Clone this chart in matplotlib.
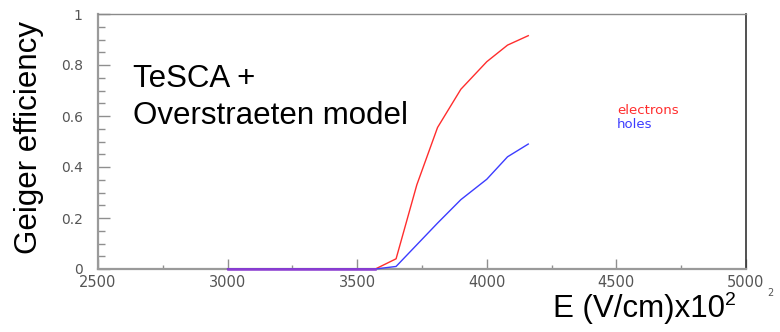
import matplotlib
matplotlib.use("Agg")
import matplotlib.pyplot as plt
from matplotlib.ticker import MultipleLocator
import numpy as np

# data
field = [3000, 3570, 3650, 3730, 3810, 3900, 4000, 4080, 4160]
electrons = [0, 0, 0.04, 0.33, 0.555, 0.705, 0.813, 0.878, 0.915]
holes = [0, 0, 0.01, 0.095, 0.18, 0.272, 0.352, 0.44, 0.49]

x_ticks = [2500, 3000, 3500, 4000, 4500, 5000]
y_ticks = [0, 0.2, 0.4, 0.6, 0.8, 1]
y_tick_labels = ["0", "0.2", "0.4", "0.6", "0.8", "1"]

red = "#ff2d2d"
blue = "#3c3cff"
purple = "#8c3cd2"
grey = "#8f8f8f"

fig = plt.figure(figsize=(7.8, 3.32), dpi=100)
ax = fig.add_axes([98 / 780, 63 / 332, 648 / 780, 255 / 332])

x = np.array(field)
e = np.array(electrons)
h = np.array(holes)
ax.plot(x, e, color=red, lw=1.0, clip_on=False, zorder=3)
ax.plot(x, h, color=blue, lw=1.0, clip_on=False, zorder=3)
# where both curves sit on zero they overlap and look purple
both = (e == 0) & (h == 0)
ax.plot(x[both], e[both], color=purple, lw=1.8, clip_on=False, zorder=4)

ax.set_xlim(2500, 5000)
ax.set_ylim(0, 1)
ax.xaxis.set_minor_locator(MultipleLocator(250))
ax.yaxis.set_minor_locator(MultipleLocator(0.05))
ax.set_xticks(x_ticks)
ax.set_xticklabels([str(t) for t in x_ticks])
ax.set_yticks(y_ticks)
ax.set_yticklabels(y_tick_labels)

ax.tick_params(axis="x", which="major", direction="in", length=7.5, width=1,
               color=grey, pad=4, labelsize=10.5, labelcolor="#555555")
ax.tick_params(axis="x", which="minor", direction="in", length=3, width=1,
               color=grey)
ax.tick_params(axis="y", which="major", direction="in", length=8.5, width=1,
               color=grey, pad=11, labelsize=10, labelcolor="#555555")
ax.tick_params(axis="y", which="minor", direction="in", length=5, width=1,
               color=grey)
for lab in ax.get_xticklabels() + ax.get_yticklabels():
    lab.set_family("DejaVu Sans")

ax.spines["left"].set_color("#9a9a9a")
ax.spines["left"].set_linewidth(1.6)
ax.spines["bottom"].set_color("#9a9a9a")
ax.spines["bottom"].set_linewidth(1.6)
ax.spines["top"].set_color("#8a8a8a")
ax.spines["top"].set_linewidth(1.0)
ax.spines["right"].set_color("#333333")
ax.spines["right"].set_linewidth(1.2)

# legend entries as plain coloured text
fig.text(617 / 780, 1 - 114 / 332, "electrons", color=red, fontsize=9.5,
         family="DejaVu Sans", va="baseline", ha="left")
fig.text(617 / 780, 1 - 128 / 332, "holes", color=blue, fontsize=9.5,
         family="DejaVu Sans", va="baseline", ha="left")

big = dict(family="Liberation Sans", fontsize=22.5, color="black")
fig.text(133 / 780, 1 - 87 / 332, "TeSCA +", va="baseline", ha="left", **big)
fig.text(133 / 780, 1 - 124 / 332, "Overstraeten model", va="baseline",
         ha="left", **big)

fig.text(14 / 780, 1 - 137 / 332, "Geiger efficiency", rotation=90,
         va="center", ha="left", **big)

fig.text(553 / 780, 1 - 317 / 332, "E (V/cm)x10", va="baseline", ha="left",
         **big)
fig.text(725 / 780, 1 - 305 / 332, "2", va="baseline", ha="left",
         family="Liberation Sans", fontsize=14, color="black")
fig.text(767 / 780, 1 - 296 / 332, "2", va="baseline", ha="left",
         family="DejaVu Sans", fontsize=7, color="#555555")

fig.savefig("out.png", dpi=100)
